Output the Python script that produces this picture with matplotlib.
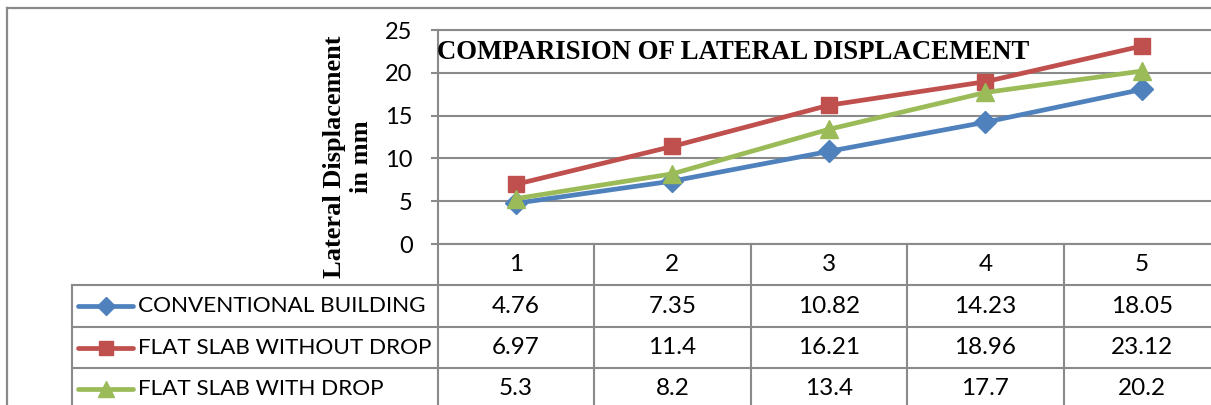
import matplotlib
matplotlib.use('Agg')
import matplotlib.pyplot as plt
from matplotlib.lines import Line2D
from matplotlib.transforms import blended_transform_factory

# ---------------- data ----------------
categories = ['1', '2', '3', '4', '5']
conventional = [4.76, 7.35, 10.82, 14.23, 18.05]
flat_no_drop = [6.97, 11.4, 16.21, 18.96, 23.12]
flat_drop = [5.3, 8.2, 13.4, 17.7, 20.2]
series_names = ['CONVENTIONAL BUILDING', 'FLAT SLAB WITHOUT DROP', 'FLAT SLAB WITH DROP']
y_ticks = [0, 5, 10, 15, 20, 25]
title = 'COMPARISION OF LATERAL DISPLACEMENT'
y_label = 'Lateral Displacement\nin mm'

series = [
    (series_names[0], conventional, '#4F81BD', 'D', 11),
    (series_names[1], flat_no_drop, '#C0504D', 's', 12),
    (series_names[2], flat_drop, '#9BBB59', '^', 13),
]

# ---------------- layout ----------------
W, H = 1211, 405
fig = plt.figure(figsize=(W / 100, H / 100), dpi=100)
fig.patch.set_facecolor('white')

def fx(px):
    return px / W

def fy(py):
    return 1 - py / H

GRID = '#8a8a8a'
SANS = ['Lato', 'DejaVu Sans']
SERIF = ['Liberation Serif', 'DejaVu Serif']

ax_left, ax_right, ax_top, ax_bot = 437.7, 1220.0, 30.0, 244.0
ax = fig.add_axes([fx(ax_left), fy(ax_bot), (ax_right - ax_left) / W, (ax_bot - ax_top) / H])
ax.set_facecolor('none')

xs = list(range(1, len(categories) + 1))
for name, vals, col, mk, ms in series:
    ax.plot(xs, vals, color=col, lw=3.4, marker=mk, ms=ms, mec=col, mfc=col,
            solid_capstyle='round', zorder=3)

ax.set_xlim(0.5, len(categories) + 0.5)
ax.set_ylim(y_ticks[0], y_ticks[-1])
ax.set_yticks(y_ticks)
ax.set_xticks([])
ax.yaxis.grid(True, color=GRID, lw=1.5)
ax.set_axisbelow(True)
for s in ['left', 'top', 'bottom']:
    ax.spines[s].set_color(GRID)
    ax.spines[s].set_linewidth(1.5)
ax.spines['right'].set_visible(False)
ax.tick_params(axis='y', direction='out', length=5, width=1.5, color=GRID, pad=13,
               labelsize=17)
for lbl in ax.get_yticklabels():
    lbl.set_fontfamily(SANS)

# ---------------- data table ----------------
trans = blended_transform_factory(ax.transData, ax.transAxes)
rh = 41.4 / (ax_bot - ax_top)          # row height in axes fraction
col_px = (ax_right - ax_left) / len(categories)
x_leg = 0.5 - (ax_left - 72.3) / col_px
n_rows = len(series) + 1
y_end = -n_rows * rh

def tline(xd, yd, **kw):
    ax.add_line(Line2D(xd, yd, transform=trans, color=GRID, lw=1.5, clip_on=False, **kw))

for k in range(len(categories) + 1):
    tline([0.5 + k, 0.5 + k], [0, y_end])
tline([x_leg, x_leg], [-rh, y_end])
for r in range(1, n_rows + 1):
    tline([x_leg, len(categories) + 0.5], [-r * rh, -r * rh])

for xi, c in zip(xs, categories):
    ax.text(xi, -0.5 * rh, c, transform=trans, ha='center', va='center',
            fontsize=17.5, family=SANS)

for i, (name, vals, col, mk, ms) in enumerate(series):
    yc = -(i + 1.5) * rh
    for xi, v in zip(xs, vals):
        ax.text(xi, yc, f'{v:g}', transform=trans, ha='center', va='center',
                fontsize=17.5, family=SANS)
    lx0 = x_leg + (78 - 72.3) / col_px
    lx1 = x_leg + (133 - 72.3) / col_px
    ax.add_line(Line2D([lx0, lx1], [yc, yc], transform=trans, color=col, lw=3.4,
                       solid_capstyle='round', clip_on=False))
    ax.add_line(Line2D([(lx0 + lx1) / 2], [yc], transform=trans, color=col, marker=mk,
                       ms=ms * 0.85, mec=col, mfc=col, clip_on=False))
    ax.text(x_leg + (138 - 72.3) / col_px, yc, name, transform=trans, ha='left',
            va='center', fontsize=16.2, family=SANS)

# ---------------- titles ----------------
fig.text(fx(436.7), fy(59.3), title, ha='left', va='baseline', fontsize=19.3,
         fontweight='bold', family=SERIF)
fig.text(fx(348), fy(157), y_label, rotation=90, ha='center', va='center',
         fontsize=19, fontweight='bold', family=SERIF, linespacing=1.2,
         multialignment='center')

# ---------------- outer frame ----------------
fig.add_artist(Line2D([fx(7), fx(7)], [fy(8), fy(H + 5)], transform=fig.transFigure,
                      color=GRID, lw=1.6))
fig.add_artist(Line2D([fx(7), fx(W + 5)], [fy(8), fy(8)], transform=fig.transFigure,
                      color=GRID, lw=1.6))

fig.savefig('out.png', dpi=100, facecolor='white')
